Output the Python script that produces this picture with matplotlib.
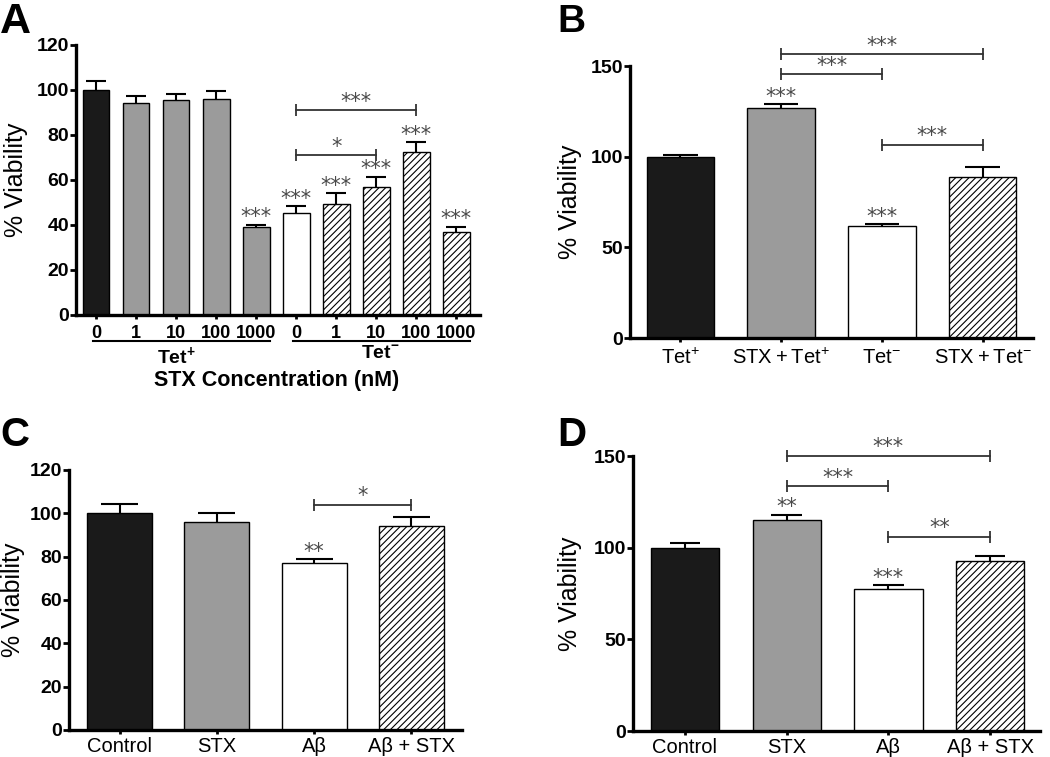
import numpy as np
import matplotlib.pyplot as plt

plt.rcParams['font.family'] = ['Liberation Sans', 'DejaVu Sans']
plt.rcParams['mathtext.fontset'] = 'custom'
plt.rcParams['mathtext.rm'] = 'Liberation Sans'
plt.rcParams['mathtext.bf'] = 'Liberation Sans:bold'
plt.rcParams['hatch.linewidth'] = 0.8

# ---- data ----
# panel A: STX concentration series, Tet+ then Tet-
a_conc = ['0', '1', '10', '100', '1000', '0', '1', '10', '100', '1000']
a_mean = [100, 94, 95.5, 96, 39, 45.5, 49.5, 57, 72.5, 37]
a_err = [4, 3.5, 2.5, 3.5, 1.2, 3, 4.5, 4.5, 4.5, 2.3]
a_stars = ['', '', '', '', '***', '***', '***', '***', '***', '***']
a_style = ['black', 'gray', 'gray', 'gray', 'gray', 'white', 'hatch', 'hatch', 'hatch', 'hatch']
a_brackets = [(5, 8, 91, '***'), (5, 7, 71, '*')]

# panel B
b_labels = [r'$\mathrm{Tet}^{+}$', r'$\mathrm{STX + Tet}^{+}$',
            r'$\mathrm{Tet}^{-}$', r'$\mathrm{STX + Tet}^{-}$']
b_mean = [100, 127, 62, 89]
b_err = [1, 2, 1, 5.5]
b_stars = ['', '***', '***', '']
b_brackets = [(1, 3, 156.5, '***'), (1, 2, 145.5, '***'), (2, 3, 106.5, '***')]

# panels C and D share categories
cd_labels = ['Control', 'STX', 'Aβ', 'Aβ + STX']
c_mean = [100, 96, 77, 94]
c_err = [4.5, 4, 2, 4.5]
c_stars = ['', '', '**', '']
c_brackets = [(2, 3, 104, '*')]

d_mean = [100, 115, 77.5, 92.5]
d_err = [2.5, 3, 2, 3]
d_stars = ['', '**', '***', '']
d_brackets = [(1, 3, 150, '***'), (1, 2, 133.5, '***'), (2, 3, 106, '**')]

four_style = ['black', 'gray', 'white', 'hatch']

fills = {'black': ('#1a1a1a', None), 'gray': ('#9b9b9b', None),
         'white': ('white', None), 'hatch': ('white', '/////')}
star_col = '#4a4a4a'


def draw_panel(ax, means, errs, styles, stars, brackets, cap, ymax, yticks, xlim, label_x):
    x = np.arange(len(means))
    for xi, m, s in zip(x, means, styles):
        fc, h = fills[s]
        ax.bar(xi, m, width=0.67, color=fc, hatch=h, edgecolor='black', linewidth=1.0, zorder=2)
    tops = np.array(means) + np.array(errs)
    ax.vlines(x, means, tops, color='black', lw=1.5, zorder=3)
    ax.hlines(tops, x - cap, x + cap, color='black', lw=1.5, zorder=3)
    for xi, t, s in zip(x, tops, stars):
        if s:
            ax.annotate(s, (xi, t), xytext=(0, -2), textcoords='offset points', ha='center',
                        va='bottom', fontsize=15, color=star_col, family='DejaVu Sans')
    for x1, x2, y, s in brackets:
        ax.plot([x1, x2], [y, y], color='#333333', lw=1.3, clip_on=False)
        ax.plot([x1, x2], [y, y], ls='none', marker='|', ms=8, mew=1.3, color='#333333', clip_on=False)
        ax.annotate(s, ((x1 + x2) / 2, y), xytext=(0, -1), textcoords='offset points', ha='center',
                    va='bottom', fontsize=15, color=star_col, family='DejaVu Sans', annotation_clip=False)
    ax.set_ylim(0, ymax)
    ax.set_xlim(*xlim)
    ax.set_yticks(yticks)
    ax.set_yticklabels([str(v) for v in yticks], fontweight='bold', fontsize=14)
    for sp in ['top', 'right']:
        ax.spines[sp].set_visible(False)
    for sp in ['left', 'bottom']:
        ax.spines[sp].set_linewidth(2.4)
    ax.tick_params(axis='y', length=4, width=2, pad=1)
    ax.tick_params(axis='x', length=3, width=2, pad=2)
    ax.set_ylabel('% Viability', fontsize=18)
    ax.yaxis.set_label_coords(label_x, 0.5)
    ax.set_xticks(x)


fig = plt.figure(figsize=(10.5, 7.57), dpi=100)

# A
axA = fig.add_axes([0.0724, 0.5839, 0.385, 0.3567])
draw_panel(axA, a_mean, a_err, a_style, a_stars, a_brackets, 0.25, 120,
           [0, 20, 40, 60, 80, 100, 120], (-0.5, 9.6), -0.119)
axA.set_xticklabels(a_conc, fontweight='bold', fontsize=13)
axA.tick_params(axis='x', pad=4)
axA.plot([-0.08, 4.35], [-11.5, -11.5], color='black', lw=1.5, clip_on=False)
axA.plot([4.92, 9.35], [-11.5, -11.5], color='black', lw=1.5, clip_on=False)
axA.text(2.0, -13.5, r'$\mathbf{Tet}^{\mathbf{+}}$', ha='center', va='top', fontsize=14)
axA.text(7.1, -13.5, r'$\mathbf{Tet}^{\mathbf{-}}$', ha='center', va='top', fontsize=14)
axA.text(4.5, -24.5, 'STX Concentration (nM)', ha='center', va='top', fontsize=15.5, fontweight='bold')

# B
axB = fig.add_axes([0.6, 0.5535, 0.3838, 0.3593])
draw_panel(axB, b_mean, b_err, four_style, b_stars, b_brackets, 0.17, 150,
           [0, 50, 100, 150], (-0.5, 3.5), -0.119)
axB.set_xticklabels(b_labels, fontsize=14.5)
axB.tick_params(axis='x', pad=4)

# C
axC = fig.add_axes([0.0657, 0.0357, 0.3743, 0.3435])
draw_panel(axC, c_mean, c_err, four_style, c_stars, c_brackets, 0.19, 120,
           [0, 20, 40, 60, 80, 100, 120], (-0.52, 3.52), -0.112)
axC.set_xticklabels(cd_labels, fontsize=14.5)

# D
axD = fig.add_axes([0.6029, 0.0343, 0.3876, 0.3633])
draw_panel(axD, d_mean, d_err, four_style, d_stars, d_brackets, 0.15, 150,
           [0, 50, 100, 150], (-0.51, 3.49), -0.125)
axD.set_xticklabels(cd_labels, fontsize=14.5)

for lab, xx, yy, fs in [('A', 0.0, 0.998, 31), ('B', 0.531, 0.995, 28),
                        ('C', 0.0, 0.45, 29), ('D', 0.531, 0.45, 29)]:
    fig.text(xx, yy, lab, fontsize=fs, fontweight='bold', va='top', ha='left')

fig.savefig('out.png', dpi=100)
